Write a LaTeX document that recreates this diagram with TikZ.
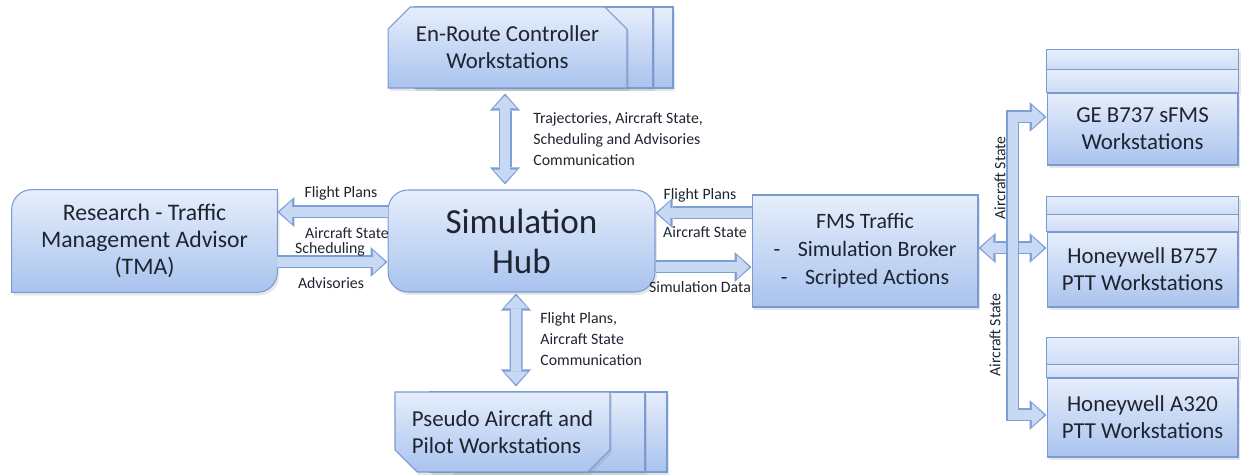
\documentclass[tikz,border=0pt]{standalone}
\usepackage{fontspec}
\setmainfont{Carlito}
\usetikzlibrary{arrows.meta,shapes.misc,shadows,backgrounds}

\definecolor{boxtop}{HTML}{E6EEFB}
\definecolor{boxbot}{HTML}{A9C3EE}
\definecolor{boxline}{HTML}{7A9AD2}
\definecolor{arrfill}{HTML}{C8D9F4}
\definecolor{arrline}{HTML}{7E9ED6}
\definecolor{txt}{HTML}{1E2430}

\tikzset{
  headout/.tip={Triangle[length=0.34cm, width=0.6cm, line width=0pt]},
  headin/.tip={Triangle[length=0.25cm, width=0.47cm, line width=0pt]},
  blk/.style={draw=arrfill, line width=0.2cm, shorten >=0.045cm, -headin,
    preaction={draw=arrline, line width=0.26cm, shorten >=0cm, -headout}},
  dblk/.style={draw=arrfill, line width=0.2cm, shorten >=0.045cm, shorten <=0.045cm, headin-headin,
    preaction={draw=arrline, line width=0.26cm, shorten >=0cm, shorten <=0cm, headout-headout}},
  shade/.style={drop shadow={opacity=0.2, shadow xshift=0.04cm, shadow yshift=-0.06cm}},
  box/.style={draw=boxline, line width=0.6pt, top color=boxtop, bottom color=boxbot,
    text=txt, align=center, inner sep=0pt, font=\fontsize{13}{15.3}\selectfont, shade},
  strip/.style={draw=boxline, line width=0.6pt, top color=boxtop, bottom color=boxtop!60!boxbot},
  multi/.style={box, chamfered rectangle, chamfered rectangle xsep=0.22cm,
    chamfered rectangle ysep=0.22cm},
  lbl/.style={text=txt, inner sep=0pt, font=\fontsize{9}{12}\selectfont},
}

\begin{document}
\begin{tikzpicture}[x=0.02cm, y=-0.02cm]
\useasboundingbox (0,0) rectangle (1241,475);

% central hub
\node[box, rounded corners=0.4cm, minimum width=5.34cm, minimum height=2.04cm,
  font=\fontsize{20}{22.7}\selectfont] (hub) at (521.5,241) {Simulation\\Hub};

% en-route stack
\node[multi, chamfered rectangle corners={north west,north east},
  minimum width=4.78cm, minimum height=1.62cm] (enroute3) at (553.5,47.5) {};
\node[multi, chamfered rectangle corners={north west,north east},
  minimum width=4.78cm, minimum height=1.62cm] (enroute2) at (533.5,47.5) {};
\node[multi, chamfered rectangle corners={north west,north east},
  minimum width=4.78cm, minimum height=1.62cm] (enroute) at (507.5,47.5)
  {En-Route Controller\\Workstations};

% pseudo pilot stack
\node[multi, chamfered rectangle corners={south west,south east},
  minimum width=4.3cm, minimum height=1.6cm] (pseudo3) at (559.5,432) {};
\node[multi, chamfered rectangle corners={south west,south east},
  minimum width=4.3cm, minimum height=1.6cm] (pseudo2) at (537.5,432) {};
\node[multi, chamfered rectangle corners={south west,south east},
  minimum width=4.3cm, minimum height=1.6cm, align=left] (pseudo) at (502.5,432)
  {Pseudo Aircraft and\\Pilot Workstations};

% TMA
\node[text=txt, align=center, inner sep=0pt, minimum width=5.3cm, minimum height=2.04cm,
  font=\fontsize{13.5}{15.3}\selectfont] (tma) at (144.5,241)
  {Research - Traffic\\Management Advisor\\(TMA)};

% FMS traffic
\node[box, minimum width=4.52cm, minimum height=2.24cm, font=\fontsize{12.5}{16}\selectfont]
  (fms) at (865,251)
  {FMS Traffic\\-\hspace{0.8em}Simulation Broker\\-\hspace{0.8em}Scripted Actions};

% flight deck workstations
\node[box, minimum width=3.82cm, minimum height=1.44cm] (ge) at (1142.5,129)
  {GE B737 sFMS\\Workstations};
\node[box, minimum width=3.82cm, minimum height=1.5cm] (b757) at (1142.5,269.5)
  {Honeywell B757\\PTT Workstations};
\node[box, minimum width=3.82cm, minimum height=1.58cm] (a320) at (1142.5,417.5)
  {Honeywell A320\\PTT Workstations};

\begin{scope}[on background layer]
  \draw[box] (tma.south west) -- ([shift={(0,20)}]tma.north west)
    arc[start angle=180, end angle=90, radius=0.4cm] -- (tma.north east)
    -- ([shift={(0,-20)}]tma.south east)
    arc[start angle=0, end angle=-90, radius=0.4cm] -- cycle;
  \draw[strip, shade] ([shift={(0,-43)}]ge.north west) rectangle ([shift={(0,-23)}]ge.north east);
  \draw[strip, shade] ([shift={(0,-23)}]ge.north west) rectangle (ge.north east);
  \draw[strip, shade] ([shift={(0,-35)}]b757.north west) rectangle ([shift={(0,-17)}]b757.north east);
  \draw[strip, shade] ([shift={(0,-17)}]b757.north west) rectangle (b757.north east);
  \draw[strip, shade] ([shift={(0,-40)}]a320.north west) rectangle ([shift={(0,-13)}]a320.north east);
  \draw[strip, shade] ([shift={(0,-13)}]a320.north west) rectangle (a320.north east);
\end{scope}

% connectors
\coordinate (erA) at ([shift={(-2.5,5)}]enroute.south);
\coordinate (erB) at ([shift={(-16.5,-5)}]hub.north);
\draw[dblk] (erA) -- (erB);
\coordinate (psA) at ([shift={(-5.5,1)}]hub.south);
\coordinate (psB) at ([shift={(13.5,-5)}]pseudo.north);
\draw[dblk] (psA) -- (psB);

\coordinate (fpL) at ([shift={(0,-29)}]hub.west);
\draw[blk] (fpL) -- (fpL -| tma.east);
\coordinate (asL) at ([shift={(0,21)}]tma.east);
\draw[blk] (asL) -- (asL -| hub.west);
\coordinate (fpR) at ([shift={(0,-38)}]fms.west);
\draw[blk] (fpR) -- (fpR -| hub.east);
\coordinate (sdR) at ([shift={(0,26)}]hub.east);
\draw[blk] (sdR) -- (sdR -| fms.west);

\coordinate (fbA) at ([shift={(0,-3)}]fms.east);
\draw[dblk] (fbA) -- (fbA -| b757.west);
\coordinate (gA) at ([shift={(0,-12)}]ge.west);
\coordinate (aA) at ([shift={(0,-2.5)}]a320.west);
\draw[dblk] (gA) -- ++(-34,0) |- (aA);

% labels
\node[lbl] (lfp) at (341,193) {Flight Plans};
\node[lbl] (las) at (347,233) {Aircraft State};
\node[lbl] (lsc) at (330,249) {Scheduling};
\node[lbl] (lad) at (331,283) {Advisories};
\node[lbl] (rfp) at (700,195) {Flight Plans};
\node[lbl] (ras) at (705,232) {Aircraft State};
\node[lbl] (rsd) at (700,287) {Simulation Data};
\node[lbl, align=left, anchor=west] (ltr) at (533,139)
  {Trajectories, Aircraft State,\\Scheduling and Advisories\\Communication};
\node[lbl, align=left, anchor=west] (lfa) at (540,339)
  {Flight Plans,\\Aircraft State\\Communication};
\node[lbl, rotate=90] (bus1) at (1000,178) {Aircraft State};
\node[lbl, rotate=90] (bus2) at (995,335) {Aircraft State};
\end{tikzpicture}
\end{document}
